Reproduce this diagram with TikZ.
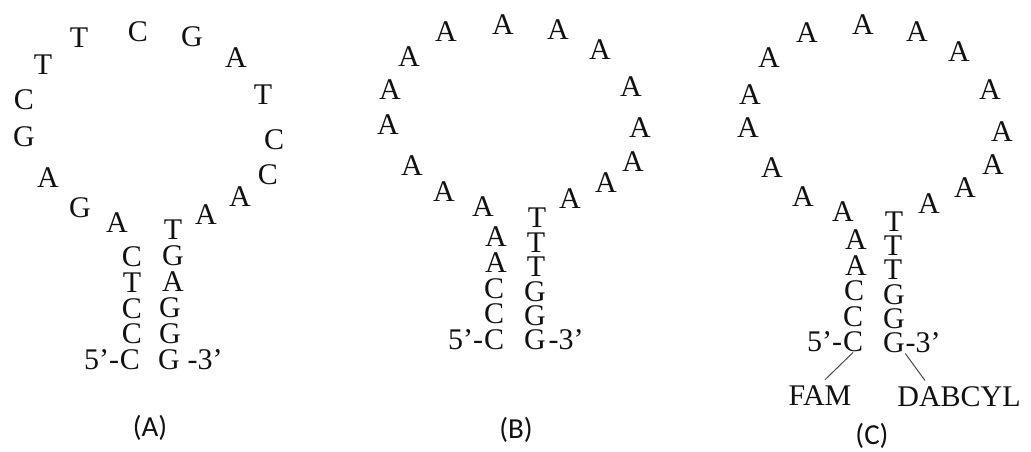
\documentclass[tikz,border=0pt]{standalone}
\usepackage{fontspec}
\setmainfont{Liberation Serif}
\newfontfamily\capfont{Carlito}
\usetikzlibrary{positioning}
\definecolor{beaconink}{HTML}{111111}
\definecolor{beaconlink}{HTML}{4A4A4A}
\tikzset{
  base letter/.style={font=\fontsize{15}{18}\selectfont, text=beaconink,
    inner sep=0pt},
  dye label/.style={font=\fontsize{15}{18}\selectfont, text=beaconink,
    inner sep=0pt},
  dye link/.style={draw=beaconlink, line width=0.5pt},
  panel label/.style={font=\capfont\fontsize{14.5}{17}\selectfont,
    text=beaconink, inner sep=0pt},
}

\begin{document}
\begin{tikzpicture}[x=0.5pt, y=-0.5pt]
  \useasboundingbox (0,0) rectangle (1031,451);

  % Hairpin A, read from the 5' end round the loop to the 3' end.
  \foreach \x/\y/\b [count=\i] in {
      130/360/C, 132/334/C, 132/309/C, 132/283/T, 132/257/C,
      117/223/A, 80/208/G, 48/178/A, 24/137/G, 24/100/C,
      43/65/T, 79/38/T, 138/32/C, 192/37/G, 236/58/A,
      263/95/T, 274/140/C, 268/175/C, 240/197/A, 206/215/A,
      173/230/T, 173/256/G, 173/282/A, 170/308/G, 170/334/G, 169/360/G}
    \node[base letter] (a\i) at (\x,\y) {\b};
  \node[base letter, base left=0pt of a1] (a5end) {5’-};
  \node[base letter, base right=3.5pt of a26] (a3end) {-3’};
  \node[panel label] (alabel) at (150,428) {(A)};

  % Hairpin B: poly-A loop.
  \foreach \x/\y/\b [count=\i] in {
      494/340/C, 494/314/C, 494/289/C, 496/263/A, 496/237/A,
      483/207/A, 444/192/A, 412/166/A, 388/125/A, 390/90/A,
      409/57/A, 446/32/A, 503/25/A, 558/30/A, 600/50/A,
      631/87/A, 640/128/A, 633/162/A, 606/183/A, 570/199/A,
      537/218/T, 536/243/T, 536/267/T, 535/292/G, 535/316/G, 535/340/G}
    \node[base letter] (b\i) at (\x,\y) {\b};
  \node[base letter, base left=0pt of b1] (b5end) {5’-};
  \node[base letter, base right=1pt of b26] (b3end) {-3’};
  \node[panel label] (blabel) at (516,430) {(B)};

  % Hairpin C: same loop, with the fluorophore and the quencher.
  \foreach \x/\y/\b [count=\i] in {
      853/342/C, 853/317/C, 854/291/C, 856/266/A, 856/240/A,
      843/212/A, 803/197/A, 772/168/A, 748/128/A, 750/95/A,
      769/58/A, 807/33/A, 863/25/A, 917/32/A, 959/52/A,
      990/90/A, 1002/132/A, 993/165/A, 965/188/A, 929/204/A,
      894/222/T, 893/246/T, 893/270/T, 894/295/G, 894/319/G, 894/343/G}
    \node[base letter] (c\i) at (\x,\y) {\b};
  \node[base letter, base left=0pt of c1] (c5end) {5’-};
  \node[base letter, base right=0pt of c26] (c3end) {-3’};
  \node[dye label] (fam) at (820,396) {FAM};
  \node[dye label] (dabcyl) at (959,397) {DABCYL};
  \draw[dye link] (c1.south) -- ([xshift=2.5pt, yshift=3pt]fam.north);
  \draw[dye link] (c26.south east) -- ([xshift=-17pt, yshift=3pt]dabcyl.north);
  \node[panel label] (clabel) at (872,436) {(C)};
\end{tikzpicture}
\end{document}
